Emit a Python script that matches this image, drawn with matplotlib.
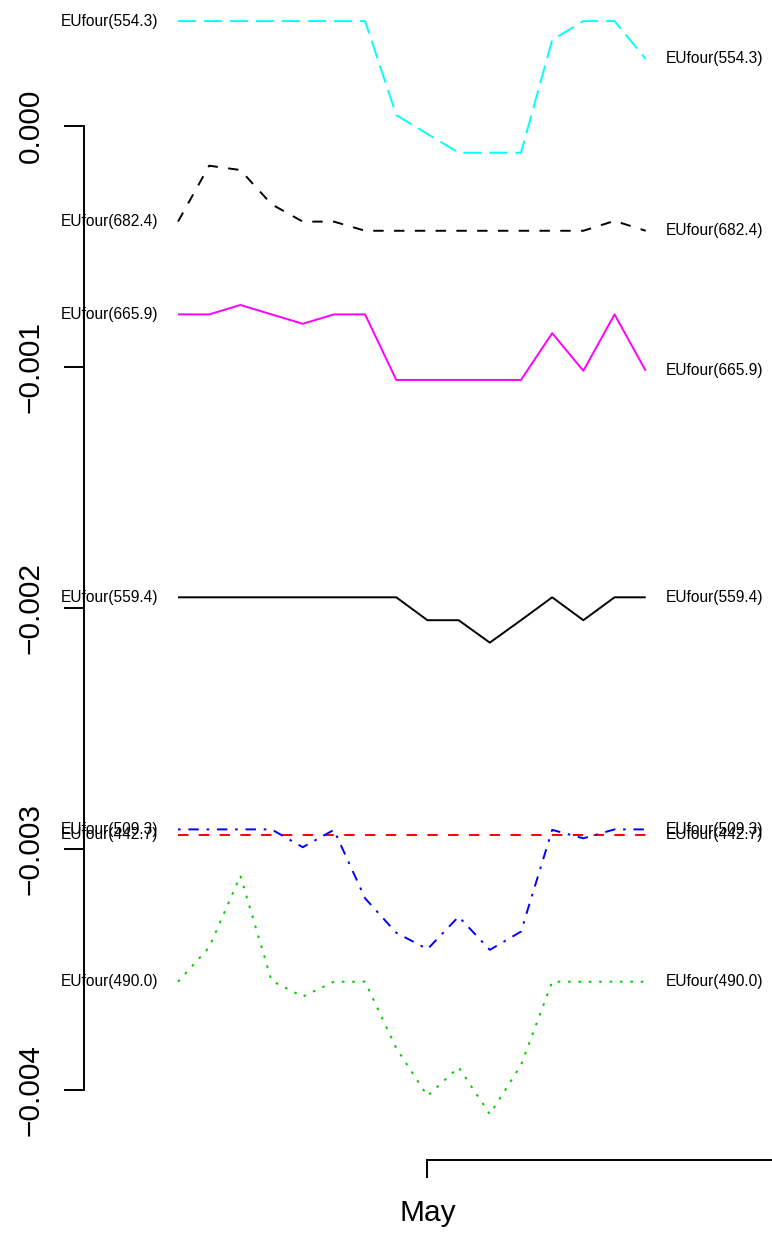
import numpy as np
import matplotlib
matplotlib.use("Agg")
import matplotlib.pyplot as plt

plt.rcParams['font.family'] = ['Liberation Sans', 'DejaVu Sans']
plt.rcParams['lines.scale_dashes'] = False

# days of the series (Apr 23 .. May 8), month tick at May 1
days = ["04-23", "04-24", "04-25", "04-26", "04-27", "04-28", "04-29", "04-30",
        "05-01", "05-02", "05-03", "05-04", "05-05", "05-06", "05-07", "05-08"]
month_day = "05-01"
month_label = "May"

# series values (in units of 1e-3)
s442_7 = [-2.943] * 16
s490_0 = [-3.552, -3.409, -3.112, -3.548, -3.614, -3.552, -3.552, -3.828,
          -4.026, -3.907, -4.102, -3.898, -3.552, -3.552, -3.552, -3.552]
s509_3 = [-2.920, -2.920, -2.920, -2.920, -2.994, -2.922, -3.206, -3.349,
          -3.417, -3.282, -3.420, -3.344, -2.922, -2.957, -2.920, -2.920]
s554_3 = [0.434, 0.434, 0.434, 0.434, 0.434, 0.434, 0.434, 0.044,
          -0.034, -0.112, -0.112, -0.112, 0.356, 0.434, 0.434, 0.277]
s559_4 = [-1.957, -1.957, -1.957, -1.957, -1.957, -1.957, -1.957, -1.957,
          -2.052, -2.052, -2.145, -2.052, -1.957, -2.052, -1.957, -1.957]
s665_9 = [-0.783, -0.783, -0.744, -0.783, -0.822, -0.783, -0.783, -1.055,
          -1.055, -1.055, -1.055, -1.055, -0.861, -1.017, -0.783, -1.017]
s682_4 = [-0.398, -0.166, -0.184, -0.326, -0.398, -0.398, -0.436, -0.436,
          -0.436, -0.436, -0.436, -0.436, -0.436, -0.436, -0.395, -0.436]

names = ["EUfour(559.4)", "EUfour(442.7)", "EUfour(490.0)", "EUfour(509.3)",
         "EUfour(554.3)", "EUfour(665.9)", "EUfour(682.4)"]
series = [s559_4, s442_7, s490_0, s509_3, s554_3, s665_9, s682_4]

yticks = [0.0, -0.001, -0.002, -0.003, -0.004]
ytick_labels = ["0.000", "\u22120.001", "\u22120.002", "\u22120.003", "\u22120.004"]

u = 1.87  # dash unit, points
styles = [
    ("black", (0, ())),
    ("#FF0000", (0, (4 * u, 4 * u))),
    ("#00CD00", (0, (1 * u, 3 * u))),
    ("#0000FF", (0, (1 * u, 3 * u, 4 * u, 3 * u))),
    ("#00FFFF", (0, (7 * u, 3 * u))),
    ("#FF00FF", (0, ())),
    ("black", (0, (4 * u, 4 * u))),
]

x = np.arange(len(days))

fig = plt.figure(figsize=(7.72, 12.41), dpi=100)
ax = fig.add_axes([0, 0, 1, 1])
ax.patch.set_alpha(0)

for name, vals, (col, ls) in zip(names, series, styles):
    y = np.array(vals) * 1e-3
    ax.plot(x, y, color=col, linestyle=ls, lw=1.4)
    ax.annotate(name, (x[0], y[0]), xytext=(-14.4, 0), textcoords='offset points',
                ha='right', va='center', fontsize=11.2)
    ax.annotate(name, (x[-1], y[-1]), xytext=(14.4, 0), textcoords='offset points',
                ha='left', va='center', fontsize=11.2)

ax.set_xlim(-5.709, 19.05)
ax.set_ylim(-4.628e-3, 0.5216e-3)

for s in ["top", "right"]:
    ax.spines[s].set_visible(False)
ax.spines["left"].set_position(("data", -3.015))
ax.spines["left"].set_bounds(-0.004, 0.0)
ax.spines["bottom"].set_position(("data", -4.2917e-3))
ax.spines["bottom"].set_bounds(days.index(month_day), 40)
for s in ["left", "bottom"]:
    ax.spines[s].set_linewidth(1.4)

ax.set_yticks(yticks)
ax.set_yticklabels(ytick_labels, rotation=90, va="center")
ax.set_xticks([days.index(month_day)])
ax.set_xticklabels([month_label])
ax.tick_params(axis="y", direction="out", length=14.4, width=1.4, labelsize=21.5, pad=14)
ax.tick_params(axis="x", direction="out", length=13, width=1.4, labelsize=21.5, pad=15)

fig.savefig("out.png", dpi=100)
